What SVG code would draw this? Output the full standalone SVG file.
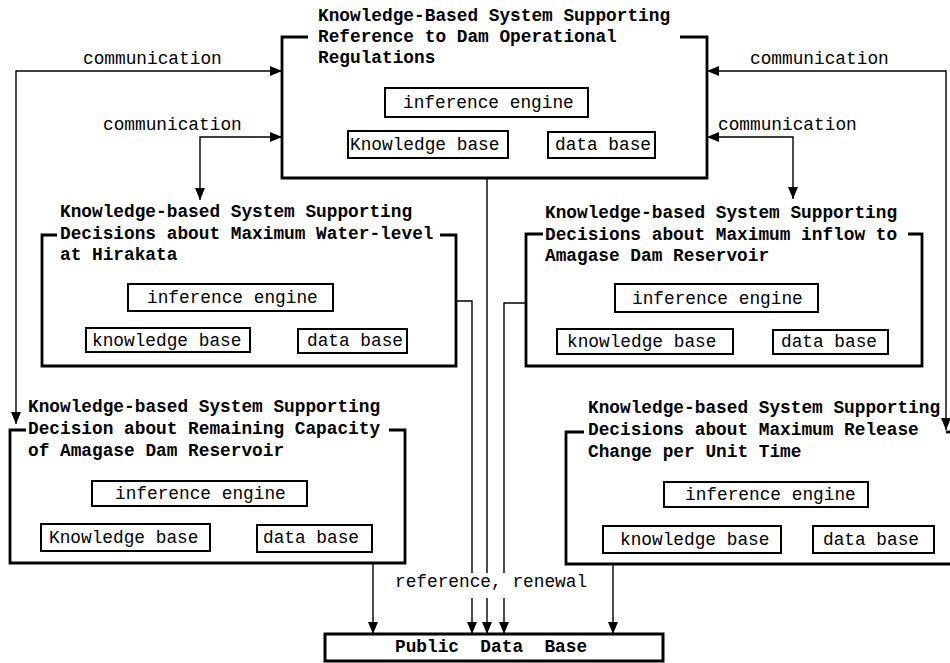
<svg xmlns="http://www.w3.org/2000/svg" width="950" height="663" viewBox="0 0 950 663">
<defs>
<style>
text{font-family:"Liberation Mono","Courier New",monospace;font-size:17.8px;fill:#000}
.t{font-weight:bold}
.frame{fill:none;stroke:#000;stroke-width:2.8;stroke-linejoin:miter}
.inner{fill:#fff;stroke:#000;stroke-width:2}
.conn{fill:none;stroke:#000;stroke-width:1.4}
</style>
<marker id="ah" viewBox="0 0 12 10" refX="12" refY="5" markerWidth="12" markerHeight="10" markerUnits="userSpaceOnUse" orient="auto-start-reverse">
<path d="M0,0 L12,5 L0,10 Z" fill="#000"/>
</marker>
</defs>
<rect width="950" height="663" fill="#fff"/>

<g id="connectors">
<path class="conn" d="M16,424 V71 H282" marker-start="url(#ah)" marker-end="url(#ah)"/>
<path class="conn" d="M200,200 V137 H282" marker-start="url(#ah)" marker-end="url(#ah)"/>
<path class="conn" d="M707,71 H946 V430" marker-start="url(#ah)" marker-end="url(#ah)"/>
<path class="conn" d="M707,137 H793 V199" marker-start="url(#ah)" marker-end="url(#ah)"/>
<path class="conn" d="M456,301 H472 V573 M472,598 V634" marker-end="url(#ah)"/>
<path class="conn" d="M487,178 V573 M487,598 V634" marker-end="url(#ah)"/>
<path class="conn" d="M526,303 H504 V573 M504,598 V634" marker-end="url(#ah)"/>
<path class="conn" d="M373,563 V634" marker-end="url(#ah)"/>
<path class="conn" d="M613,564 V634" marker-end="url(#ah)"/>
<text x="83" y="64">communication</text>
<text x="103" y="130">communication</text>
<text x="750" y="64">communication</text>
<text x="718" y="130">communication</text>
<text x="395" y="587">reference, renewal</text>
</g>

<g id="node-regulations">
<path class="frame" d="M308,37 H282 V178 H707 V37 H680"/>
<text class="t" x="318" y="21">Knowledge-Based System Supporting</text>
<text class="t" x="318" y="42">Reference to Dam Operational</text>
<text class="t" x="318" y="63">Regulations</text>
<rect class="inner" x="385" y="88" width="203" height="29"/>
<text x="403" y="108">inference engine</text>
<rect class="inner" x="348" y="131" width="160" height="27"/>
<text x="350" y="150">Knowledge base</text>
<rect class="inner" x="548" y="132" width="107" height="26"/>
<text x="555" y="150">data base</text>
</g>

<g id="node-hirakata">
<path class="frame" d="M57,235 H42 V366 H456 V235 H440"/>
<text class="t" x="60" y="217">Knowledge-based System Supporting</text>
<text class="t" x="60" y="239">Decisions about Maximum Water-level</text>
<text class="t" x="60" y="260">at Hirakata</text>
<rect class="inner" x="128" y="284" width="205" height="27"/>
<text x="147" y="303">inference engine</text>
<rect class="inner" x="86" y="328" width="164" height="24"/>
<text x="92" y="346">knowledge base</text>
<rect class="inner" x="298" y="329" width="109" height="24"/>
<text x="307" y="346">data base</text>
</g>

<g id="node-inflow">
<path class="frame" d="M543,234 H526 V366 H922 V234 H908"/>
<text class="t" x="545" y="218">Knowledge-based System Supporting</text>
<text class="t" x="545" y="240">Decisions about Maximum inflow to</text>
<text class="t" x="545" y="261">Amagase Dam Reservoir</text>
<rect class="inner" x="615" y="284" width="203" height="28"/>
<text x="632" y="304">inference engine</text>
<rect class="inner" x="557" y="329" width="176" height="25"/>
<text x="567" y="347">knowledge base</text>
<rect class="inner" x="773" y="330" width="115" height="24"/>
<text x="781" y="347">data base</text>
</g>

<g id="node-capacity">
<path class="frame" d="M26,430 H10 V563 H405 V430 H389"/>
<text class="t" x="28" y="412">Knowledge-based System Supporting</text>
<text class="t" x="28" y="434">Decision about Remaining Capacity</text>
<text class="t" x="28" y="456">of Amagase Dam Reservoir</text>
<rect class="inner" x="92" y="481" width="215" height="25"/>
<text x="115" y="499">inference engine</text>
<rect class="inner" x="41" y="524" width="169" height="27"/>
<text x="49" y="543">Knowledge base</text>
<rect class="inner" x="257" y="525" width="115" height="27"/>
<text x="263" y="543">data base</text>
</g>

<g id="node-release">
<path class="frame" d="M584,432 H566 V564 H953"/>
<path class="frame" d="M946,432 H953"/>
<text class="t" x="588" y="413">Knowledge-based System Supporting</text>
<text class="t" x="588" y="435">Decisions about Maximum Release</text>
<text class="t" x="588" y="457">Change per Unit Time</text>
<rect class="inner" x="664" y="482" width="204" height="25"/>
<text x="685" y="500">inference engine</text>
<rect class="inner" x="603" y="526" width="178" height="27"/>
<text x="620" y="545">knowledge base</text>
<rect class="inner" x="813" y="526" width="121" height="27"/>
<text x="823" y="545">data base</text>
</g>

<g id="node-public-db">
<rect x="325" y="634" width="338" height="27" fill="#fff" stroke="#000" stroke-width="3"/>
<text class="t" x="395" y="652" xml:space="preserve" style="white-space:pre">Public  Data  Base</text>
</g>
</svg>
